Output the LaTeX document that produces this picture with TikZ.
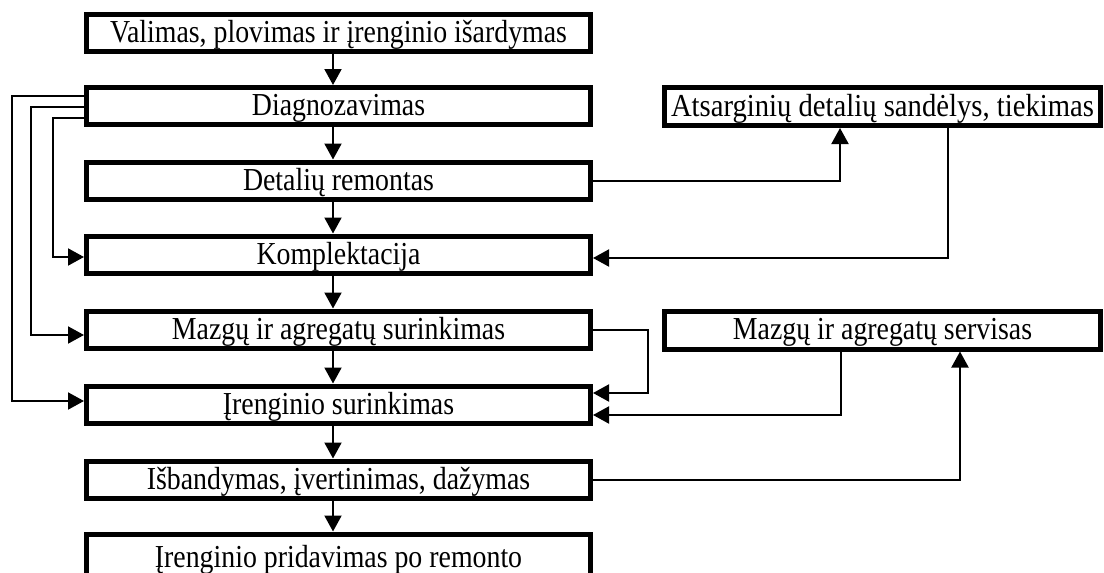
\documentclass[tikz,border=0pt]{standalone}
\usepackage{fontspec}
\setmainfont{Liberation Serif}
\usetikzlibrary{arrows.meta}
\newcommand{\bt}[1]{\scalebox{0.87}[1]{#1}}
\begin{document}
\begin{tikzpicture}[x=1pt,y=-1pt,
  box/.style={draw,line width=5pt,minimum width=504pt,minimum height=37pt,inner sep=0pt,text height=21pt,text depth=2pt,font=\fontsize{32}{36}\selectfont},
  rbox/.style={draw,line width=5pt,minimum width=436pt,minimum height=38pt,inner sep=0pt,text height=21pt,text depth=2pt,font=\fontsize{32}{36}\selectfont},
  conn/.style={line width=2pt,-{Triangle[length=16pt,width=17pt]}},
  line/.style={line width=2pt}]
\useasboundingbox (0,0) rectangle (1104,573);
\node[box] (b1) at (338.5,32.5) {\bt{Valimas, plovimas ir įrenginio išardymas}};
\node[box] (b2) at (338.5,106) {\bt{Diagnozavimas}};
\node[box] (b3) at (338.5,180.5) {\bt{Detalių remontas}};
\node[box] (b4) at (338.5,254.5) {\bt{Komplektacija}};
\node[box] (b5) at (338.5,329.5) {\bt{Mazgų ir agregatų surinkimas}};
\node[box] (b6) at (338.5,404.5) {\bt{Įrenginio surinkimas}};
\node[box] (b7) at (338.5,479.5) {\bt{Išbandymas, įvertinimas, dažymas}};
\node[box,minimum height=48pt] (b8) at (338.5,558) {\bt{Įrenginio pridavimas po remonto}};
\node[rbox] (a) at (882.5,106.5) {\resizebox{423pt}{\height}{Atsarginių detalių sandėlys, tiekimas}};
\node[rbox] (s) at (882.5,330) {\bt{Mazgų ir agregatų servisas}};
% main flow
\draw[conn] (b1.south -| 333,0) -- (b2.north -| 333,0);
\draw[conn] (b2.south -| 333,0) -- (b3.north -| 333,0);
\draw[conn] (b3.south -| 333,0) -- (b4.north -| 333,0);
\draw[conn] (b4.south -| 333,0) -- (b5.north -| 333,0);
\draw[conn] (b5.south -| 333,0) -- (b6.north -| 333,0);
\draw[conn] (b6.south -| 333,0) -- (b7.north -| 333,0);
\draw[conn] (b7.south -| 333,0) -- (b8.north -| 333,0);
% left feedback lines
\draw[conn] (b2.west |- 0,96) -- (12,96) |- (b6.west |- 0,401);
\draw[conn] (b2.west |- 0,107) -- (31,107) |- (b5.west |- 0,335);
\draw[conn] (b2.west |- 0,118) -- (53,118) |- (b4.west |- 0,257);
% right side
\draw[conn] (b3.east) -| (a.south -| 840,0);
\draw[conn] (a.south -| 948,0) |- (b4.east |- 0,258);
\draw[conn] (b5.east) -| (648,393) -- (b6.east |- 0,393);
\draw[conn] (s.south -| 841,0) |- (b6.east |- 0,415);
\draw[conn] (b7.east) -| (s.south -| 960,0);
\end{tikzpicture}
\end{document}
